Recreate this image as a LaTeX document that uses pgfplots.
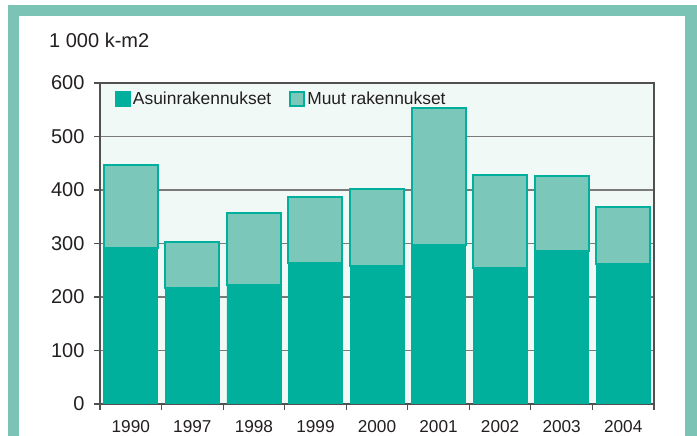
\documentclass[border=0pt]{standalone}
\usepackage{pgfplots}
\pgfplotsset{compat=1.18}
\usepackage{fontspec}
\setmainfont{Liberation Sans}
\definecolor{framec}{HTML}{7AC3B5}
\definecolor{asuin}{HTML}{00B09C}
\definecolor{muut}{HTML}{7BC8BA}
\definecolor{plotbg}{HTML}{F1F9F6}
\definecolor{txt}{HTML}{231F20}
\definecolor{gridc}{HTML}{7A7A7A}
\definecolor{axisc}{HTML}{505050}
\begin{document}
\begin{tikzpicture}[x=1pt,y=1pt]
\useasboundingbox (0,0) rectangle (697,436);
\fill[framec] (8,0) rectangle (19,431);
\fill[framec] (8,420) rectangle (697,431);
\fill[framec] (685,0) rectangle (697,431);
\node[anchor=base west, font=\fontsize{20}{24}\selectfont, text=txt, inner sep=0pt] at (49,388) {1 000 k-m2};
\begin{axis}[
  at={(100pt,32pt)}, anchor=south west,
  width=554pt, height=321pt, scale only axis,
  ybar stacked, bar width=0.877,
  xmin=-0.5, xmax=8.5, ymin=0, ymax=600,
  ytick={0,100,...,600},
  xtick={-0.5,0.5,...,8.5},
  x tick label as interval,
  xticklabels={1990,1997,1998,1999,2000,2001,2002,2003,2004},
  xtick pos=bottom, ytick pos=left,
  tick align=outside, major tick length=6pt,
  tick style={draw=axisc, line width=1.2pt},
  axis line style={draw=axisc, line width=1.5pt},
  axis background/.style={fill=plotbg},
  ymajorgrids, grid style={draw=gridc, line width=1.4pt},
  /pgf/number format/assume math mode=true,
  yticklabel style={font=\fontsize{20}{24}\selectfont, text=txt, xshift=-6pt},
  xticklabel style={font=\fontsize{17.2}{20}\selectfont, text=txt, yshift=-7pt},
  legend columns=2,
  legend style={at={(0.022,0.985)}, anchor=north west, draw=none, fill=none,
    font=\fontsize{17.4}{20}\selectfont, text=txt,
    /tikz/every even column/.append style={column sep=16pt}},
]
\addplot+[fill=asuin, draw=asuin, line width=0.6pt,
  legend image code/.code={\fill[asuin] (-3pt,-7.5pt) rectangle (12pt,7.5pt);}]
  coordinates {(0,291) (1,216) (2,222) (3,264) (4,258) (5,298) (6,255) (7,286) (8,262)};
\addlegendentry{Asuinrakennukset}
\addplot+[fill=muut, draw=asuin, line width=2pt,
  legend image code/.code={\draw[fill=muut, draw=asuin, line width=2pt] (-2pt,-7pt) rectangle (12pt,7pt);}]
  coordinates {(0,155) (1,87) (2,135) (3,122) (4,144) (5,256) (6,173) (7,141) (8,107)};
\addlegendentry{Muut rakennukset}
\end{axis}
\end{tikzpicture}
\end{document}
